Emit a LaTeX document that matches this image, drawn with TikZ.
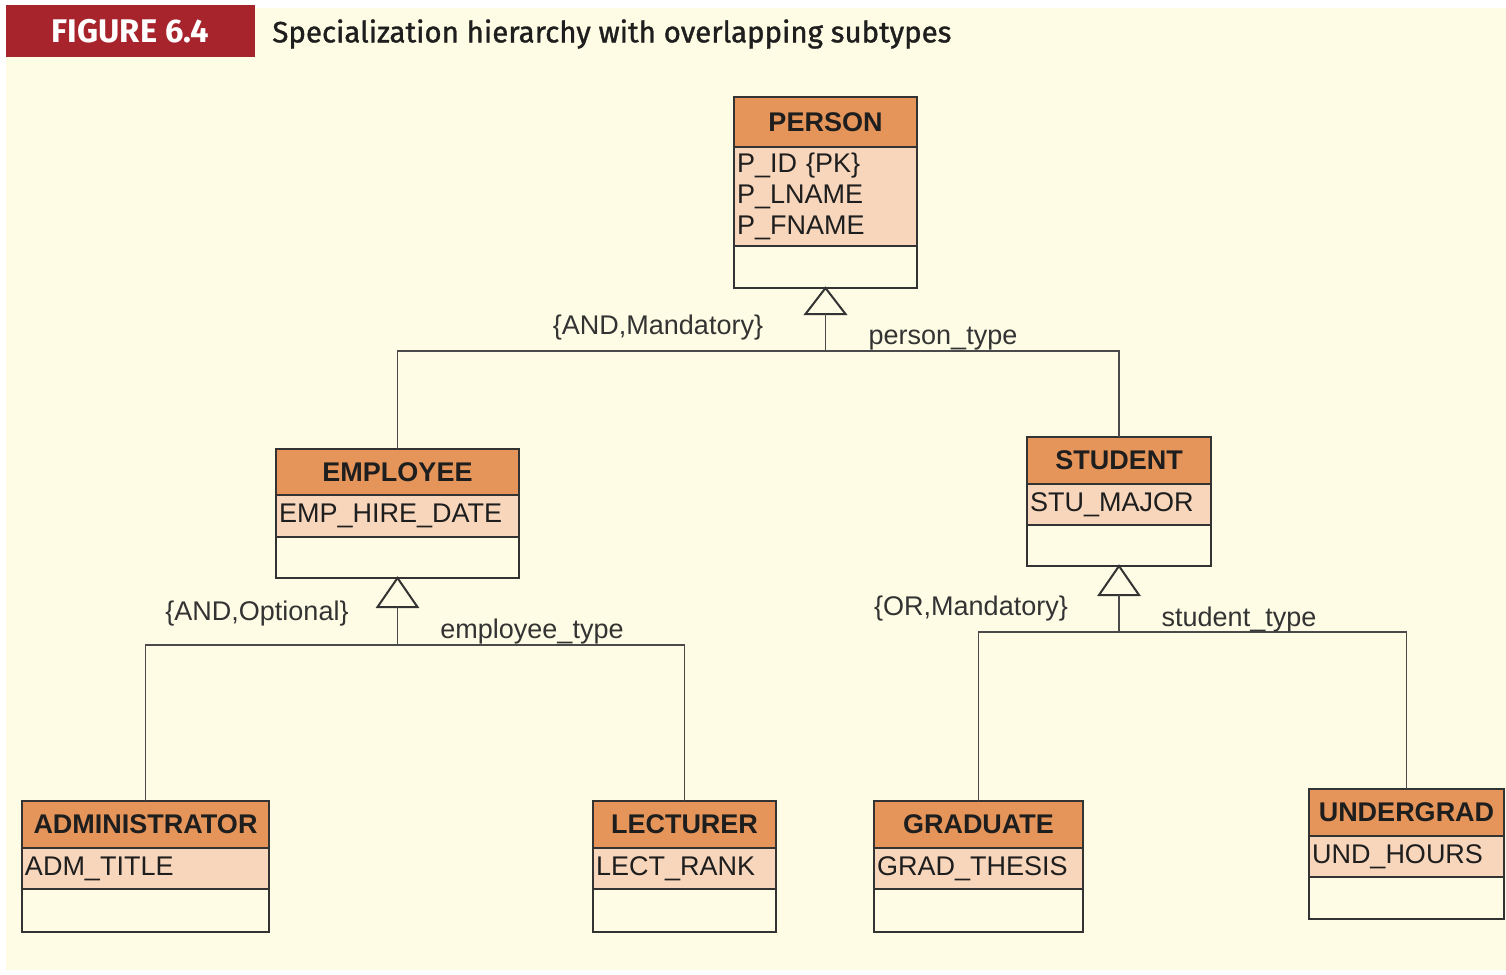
\documentclass[tikz,border=0pt]{standalone}
\usepackage{fontspec}
\setmainfont{Liberation Sans}
\newfontfamily\titlefont{Fira Sans}
\newfontfamily\tagfont{Fira Sans}
\usetikzlibrary{fit,calc}

\definecolor{paper}{HTML}{FEFCE4}
\definecolor{figred}{HTML}{A8242C}
\definecolor{hdr}{HTML}{E5955A}
\definecolor{attr}{HTML}{F7D6BC}
\definecolor{edge}{HTML}{333333}
\definecolor{ink}{HTML}{1E1E1E}
\definecolor{lblink}{HTML}{333333}
\definecolor{wire}{HTML}{4A4A4A}

\tikzset{
  cell/.style={draw=edge, line width=1.1pt, outer sep=0pt, inner sep=0pt, anchor=north west},
  hdrcell/.style={cell, fill=hdr, text=ink, font=\fontsize{13.5}{15.5}\selectfont\bfseries},
  attrcell/.style={cell, fill=attr, text=ink, align=left, inner xsep=1.5pt,
                   font=\fontsize{13.5}{15.5}\selectfont},
  opcell/.style={cell, fill=paper},
  classframe/.style={draw=edge, line width=1.2pt, inner sep=0pt, outer sep=0pt},
  gen/.style={draw=edge, line width=1pt, fill=paper, line join=miter},
  conn/.style={draw=wire, line width=0.8pt},
  lbl/.style={text=lblink, inner sep=0pt, font=\fontsize{13.5}{15.5}\selectfont},
}

% #1 name, #2 left, #3 top, #4 width, #5 header height,
% #6 attribute height, #7 operation height, #8 title, #9 attributes
\newcommand\umlclass[9]{%
  \pgfmathsetlengthmacro\cw{#4*0.5pt}%
  \pgfmathsetlengthmacro\tw{#4*0.5pt-3pt}%
  \pgfmathsetlengthmacro\hh{#5*0.5pt}%
  \pgfmathsetlengthmacro\ah{#6*0.5pt}%
  \pgfmathsetlengthmacro\oh{#7*0.5pt}%
  \node[hdrcell, minimum width=\cw, minimum height=\hh] (#1-h) at (#2,#3) {#8};
  \node[attrcell, text width=\tw, minimum height=\ah] (#1-a) at (#1-h.south west) {#9};
  \node[opcell, minimum width=\cw, minimum height=\oh] (#1-o) at (#1-a.south west) {};
  \node[classframe, fit=(#1-h)(#1-o)] (#1) {};
}

\begin{document}
\begin{tikzpicture}[x=0.5pt, y=-0.5pt]
  % page and background
  \fill[white] (0,0) rectangle (1506,975);
  \useasboundingbox (0,0) rectangle (1506,975);
  \fill[paper] (6,8) rectangle (1506,970);

  % caption bar
  \node[fill=figred, minimum width=124.5pt, minimum height=26pt, inner sep=0pt,
        text=white] (figtag) at (130.5,31) {\resizebox{78.5pt}{!}{\tagfont\bfseries FIGURE 6.4}};
  \node[anchor=west, inner sep=0pt, text=ink] (title) at (272,34)
        {\resizebox{339.5pt}{!}{\titlefont\addfontfeature{FakeBold=1.2}Specialization hierarchy with overlapping subtypes}};

  % classes
  \umlclass{person}{734}{97}{183}{50}{99}{42}{PERSON}{P\_ID \{PK\}\\P\_LNAME\\P\_FNAME}
  \umlclass{employee}{276}{449}{243}{46}{42}{41}{EMPLOYEE}{EMP\_HIRE\_DATE}
  \umlclass{student}{1027}{437}{184}{47}{41}{41}{STUDENT}{STU\_MAJOR}
  \umlclass{admin}{22}{801}{247}{47}{41}{43}{ADMINISTRATOR}{ADM\_TITLE}
  \umlclass{lecturer}{593}{801}{183}{47}{41}{43}{LECTURER}{LECT\_RANK}
  \umlclass{graduate}{874}{801}{209}{47}{41}{43}{GRADUATE}{GRAD\_THESIS}
  \umlclass{undergrad}{1309}{789}{195}{47}{41}{42}{UNDERGRAD}{UND\_HOURS}

  % generalisation: PERSON
  \coordinate (person-t) at ($(person.south)+(0,26)$);
  \draw[gen] (person.south) -- ($(person-t)+(-20,0)$) -- ($(person-t)+(20,0)$) -- cycle;
  \draw[conn] (person-t) -- ++(0,37) coordinate (person-j);
  \draw[conn] (employee.north) |- (person-j) -| (student.north);
  \node[lbl] (person-c) at (658,328) {\{AND,Mandatory\}};
  \node[lbl] (person-d) at (943,339) {person\_type};

  % generalisation: EMPLOYEE
  \coordinate (employee-t) at ($(employee.south)+(0,29)$);
  \draw[gen] (employee.south) -- ($(employee-t)+(-20,0)$) -- ($(employee-t)+(20,0)$) -- cycle;
  \draw[conn] (employee-t) -- ++(0,38) coordinate (employee-j);
  \draw[conn] (admin.north) |- (employee-j) -| (lecturer.north);
  \node[lbl] (employee-c) at (257,614) {\{AND,Optional\}};
  \node[lbl] (employee-d) at (532,632) {employee\_type};

  % generalisation: STUDENT
  \coordinate (student-t) at ($(student.south)+(0,29)$);
  \draw[gen] (student.south) -- ($(student-t)+(-20,0)$) -- ($(student-t)+(20,0)$) -- cycle;
  \draw[conn] (student-t) -- ++(0,37) coordinate (student-j);
  \draw[conn] (graduate.north) |- (student-j) -| (undergrad.north);
  \node[lbl] (student-c) at (971,609) {\{OR,Mandatory\}};
  \node[lbl] (student-d) at (1239,620) {student\_type};
\end{tikzpicture}
\end{document}
